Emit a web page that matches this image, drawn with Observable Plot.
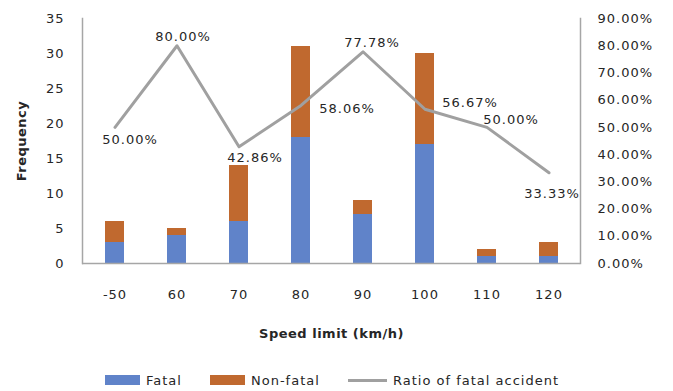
<!DOCTYPE html>
<html>
<head>
<meta charset="utf-8">
<script src="https://cdn.jsdelivr.net/npm/d3@7"></script>
<script src="https://cdn.jsdelivr.net/npm/@observablehq/plot@0.6"></script>
<style>
  body { margin: 0; background: #fff; font-family: "DejaVu Sans", sans-serif; }
  #chart { position: relative; width: 673px; height: 391px; }
  #legend { position: absolute; left: 0; top: 371px; width: 673px; height: 18px; font-size: 13px; letter-spacing: 1px; color: #262626; }
  .item { position: absolute; top: 0; display: flex; align-items: center; height: 18px; }
  .sw { display: inline-block; width: 35px; height: 10px; margin-right: 6px; }
  .ln { display: inline-block; width: 39px; height: 3px; margin-right: 6px; background: #a0a0a0; }
  svg text { letter-spacing: 1px; }
</style>
</head>
<body>
<div id="chart"></div>
<script>
const speeds = ["-50", "60", "70", "80", "90", "100", "110", "120"];
const fatal = [3, 4, 6, 18, 7, 17, 1, 1];
const nonFatal = [3, 1, 8, 13, 2, 13, 1, 2];
const ratio = [0.5, 0.8, 0.4286, 0.5806, 0.7778, 0.5667, 0.5, 0.3333];
const ratioLabels = ["50.00%", "80.00%", "42.86%", "58.06%", "77.78%", "56.67%", "50.00%", "33.33%"];
const freqTicks = [0, 5, 10, 15, 20, 25, 30, 35];
const ratioTicks = [0, 0.1, 0.2, 0.3, 0.4, 0.5, 0.6, 0.7, 0.8, 0.9];
const seriesNames = ["Fatal", "Non-fatal"];

// label placement (style, not data)
const labelDx = [15, 6, 16, 46, 9, 45, 24, 3];
const labelDy = [12, -9, 11, 3, -9, -6, -8, 21];

const yMax = 35, rMax = 0.9;
const toY = r => r * yMax / rMax;

const bars = [];
speeds.forEach((s, i) => {
  bars.push({speed: s, type: seriesNames[0], value: fatal[i]});
  bars.push({speed: s, type: seriesNames[1], value: nonFatal[i]});
});
const pts = speeds.map((s, i) => ({speed: s, y: toY(ratio[i]), label: ratioLabels[i], i}));

const textColor = "#262626";
const axisColor = "#a6a6a6";

const plot = Plot.plot({
  width: 673,
  height: 362,
  marginLeft: 82,
  marginRight: 93,
  marginTop: 18,
  marginBottom: 99,
  style: {fontFamily: "DejaVu Sans, sans-serif", fontSize: "13px", color: textColor, background: "white"},
  x: {type: "band", domain: speeds, paddingInner: 0.7, paddingOuter: 0.35},
  y: {domain: [0, yMax]},
  color: {domain: seriesNames, range: ["#6083c9", "#c0692f"]},
  marks: [
    Plot.barY(bars, {x: "speed", y: "value", fill: "type"}),
    Plot.ruleY([0], {stroke: axisColor, strokeWidth: 1.5}),
    Plot.frame({anchor: "left", stroke: axisColor, strokeWidth: 1.5}),
    Plot.frame({anchor: "right", stroke: axisColor, strokeWidth: 1.5}),
    Plot.line(pts, {x: "speed", y: "y", stroke: "#a0a0a0", strokeWidth: 3}),
    ...pts.map(p => Plot.text([p], {x: "speed", y: "y", text: "label", dx: labelDx[p.i], dy: labelDy[p.i], fill: textColor, fontSize: 13})),
    Plot.axisY(freqTicks, {anchor: "left", tickSize: 0, tickPadding: 18, label: "Frequency", labelArrow: false, labelAnchor: "center", labelOffset: 66, fontSize: 13}),
    Plot.axisY(ratioTicks.map(toY), {anchor: "right", tickSize: 0, tickPadding: 17, textAnchor: "start", tickFormat: d => (d * rMax / yMax * 100).toFixed(2) + "%", label: null, fontSize: 13}),
    Plot.axisX({tickSize: 0, tickPadding: 26, label: "Speed limit (km/h)", labelArrow: false, labelAnchor: "center", labelOffset: 74, fontSize: 13})
  ]
});
document.getElementById("chart").appendChild(plot);
d3.select(plot).selectAll("g[aria-label='y-axis label'] text, g[aria-label='x-axis label'] text")
  .style("font-weight", "bold")
  .style("letter-spacing", "0.5px")
  .each(function() { this.textContent = this.textContent.replace(/\s*[↑→↓←]\s*/g, ""); });

const legend = document.createElement("div");
legend.id = "legend";
legend.innerHTML = `
  <div class="item" style="left:105px"><span class="sw" style="background:#6083c9"></span>${seriesNames[0]}</div>
  <div class="item" style="left:210px"><span class="sw" style="background:#c0692f"></span>${seriesNames[1]}</div>
  <div class="item" style="left:348px"><span class="ln"></span>Ratio of fatal accident</div>`;
document.getElementById("chart").appendChild(legend);
</script>
</body>
</html>
